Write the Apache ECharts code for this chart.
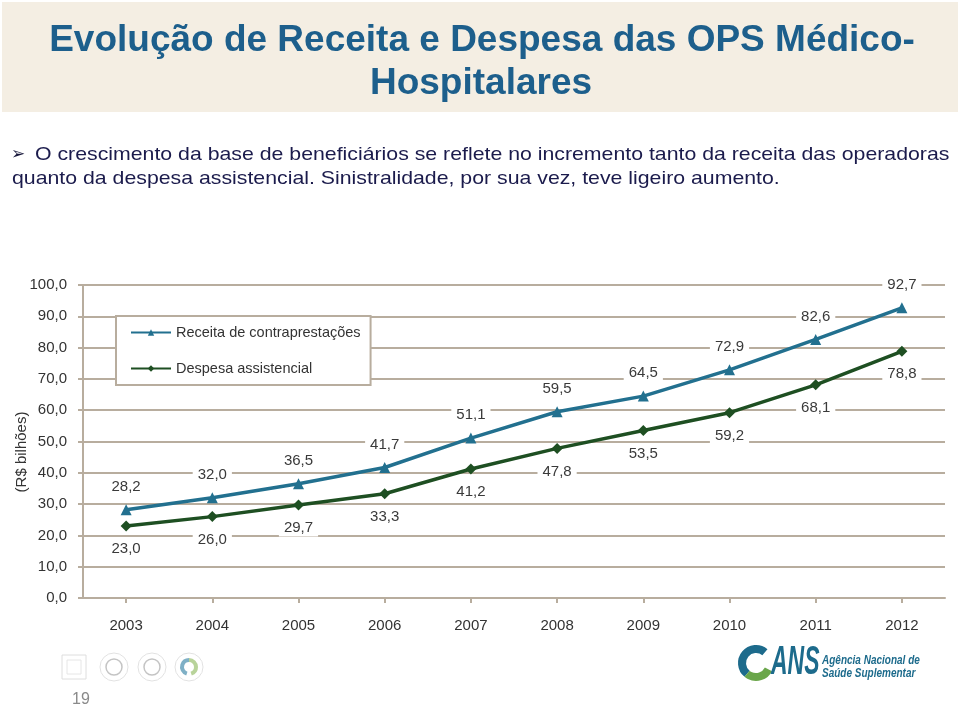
<!DOCTYPE html>
<html>
<head>
<meta charset="utf-8">
<script src="https://cdn.jsdelivr.net/npm/echarts@6/dist/echarts.min.js"></script>
<style>
html,body{margin:0;padding:0;background:#fff;}
#c{width:960px;height:707px;}
</style>
</head>
<body>
<div id="c"></div>
<script>
const years = ['2003','2004','2005','2006','2007','2008','2009','2010','2011','2012'];
const receita = [28.2, 32.0, 36.5, 41.7, 51.1, 59.5, 64.5, 72.9, 82.6, 92.7];
const despesa = [23.0, 26.0, 29.7, 33.3, 41.2, 47.8, 53.5, 59.2, 68.1, 78.8];
const seriesNames = ['Receita de contraprestações', 'Despesa assistencial'];
const titleLines = ['Evolução de Receita e Despesa das OPS Médico-', 'Hospitalares'];
const bulletLines = ['O crescimento da base de beneficiários se reflete no incremento tanto da receita das operadoras',
  'quanto da despesa assistencial. Sinistralidade, por sua vez, teve ligeiro aumento.'];
const yAxisName = '(R$ bilhões)';
const pageNumber = '19';
const logoTexts = ['ANS', 'Agência Nacional de', 'Saúde Suplementar'];

const fmt = v => v.toFixed(1).replace('.', ',');
const axisCol = '#b8ad9e';
const FF = 'Arial, "Liberation Sans", sans-serif';
const chart = echarts.init(document.getElementById('c'));

const labelBase = {
  show: true,
  fontFamily: FF,
  fontSize: 15,
  color: '#3a3a3a',
  backgroundColor: '#fff',
  padding: [1, 5],
  distance: 9,
  formatter: p => fmt(p.value)
};

function txt(x, y, text, font, fill, extra) {
  return Object.assign({
    type: 'text', x: x, y: y,
    style: {text: text, font: font, fill: fill, textAlign: 'left', textVerticalAlign: 'middle'}
  }, extra || {});
}

chart.setOption({
  animation: false,
  textStyle: {fontFamily: FF},
  grid: {left: 83, right: 15, top: 285, bottom: 109, containLabel: false},
  legend: {
    orient: 'vertical',
    left: 116, top: 316,
    backgroundColor: '#fff',
    borderColor: axisCol,
    borderWidth: 2,
    padding: [9, 10, 9, 14],
    itemGap: 21,
    itemWidth: 40,
    itemHeight: 8,
    textStyle: {fontSize: 14.5, color: '#333'},
    data: seriesNames
  },
  xAxis: {
    type: 'category',
    data: years,
    boundaryGap: true,
    axisLine: {lineStyle: {color: axisCol, width: 2}},
    axisTick: {show: true, alignWithLabel: true, length: 5, lineStyle: {color: axisCol, width: 2}},
    axisLabel: {fontSize: 15, color: '#333', margin: 20}
  },
  yAxis: {
    type: 'value',
    min: 0, max: 100, interval: 10,
    axisLine: {show: true, lineStyle: {color: axisCol, width: 2}},
    axisTick: {show: true, length: 5, lineStyle: {color: axisCol, width: 2}},
    axisLabel: {fontSize: 15, color: '#333', margin: 16, formatter: v => fmt(v)},
    splitLine: {show: true, lineStyle: {color: axisCol, width: 2}}
  },
  series: [
    {
      name: seriesNames[0],
      type: 'line',
      data: receita,
      symbol: 'triangle',
      symbolSize: 11,
      lineStyle: {color: '#22708f', width: 3.5},
      itemStyle: {color: '#22708f'},
      label: Object.assign({}, labelBase, {position: 'top'}),
      z: 3
    },
    {
      name: seriesNames[1],
      type: 'line',
      data: despesa,
      symbol: 'diamond',
      symbolSize: 11,
      lineStyle: {color: '#1e4f22', width: 3.5},
      itemStyle: {color: '#1e4f22'},
      label: Object.assign({}, labelBase, {position: 'bottom'}),
      z: 3
    }
  ],
  graphic: [
    {type: 'rect', shape: {x: 2, y: 2, width: 956, height: 110}, style: {fill: '#f4eee3'}, z: -10},
    {type: 'text', x: 482, y: 41, style: {text: titleLines[0], font: 'bold 37px ' + FF, fill: '#1d5f8c', textAlign: 'center', textVerticalAlign: 'middle'}},
    {type: 'text', x: 481, y: 84, style: {text: titleLines[1], font: 'bold 37px ' + FF, fill: '#1d5f8c', textAlign: 'center', textVerticalAlign: 'middle'}},
    txt(11, 155, '➢', '17px "DejaVu Sans", sans-serif', '#16163a'),
    txt(35, 155, bulletLines[0], '19px ' + FF, '#1b1b4c', {scaleX: 1.12}),
    txt(12, 179, bulletLines[1], '19px ' + FF, '#1b1b4c', {scaleX: 1.12}),
    txt(22, 452, yAxisName, '15px ' + FF, '#333', {rotation: Math.PI / 2, style: {text: yAxisName, font: '15px ' + FF, fill: '#333', textAlign: 'center', textVerticalAlign: 'middle'}}),
    txt(72, 700, pageNumber, '16px ' + FF, '#8a8a8a'),
    // faint footer icons
    {type: 'rect', shape: {x: 62, y: 655, width: 24, height: 24}, style: {fill: 'none', stroke: '#dedede', lineWidth: 1}},
    {type: 'rect', shape: {x: 67, y: 660, width: 14, height: 14}, style: {fill: 'none', stroke: '#e6e6e6', lineWidth: 1}},
    {type: 'circle', shape: {cx: 114, cy: 667, r: 14}, style: {fill: 'none', stroke: '#e2e2e2', lineWidth: 1}},
    {type: 'circle', shape: {cx: 114, cy: 667, r: 8}, style: {fill: 'none', stroke: '#c4c4c4', lineWidth: 1.5}},
    {type: 'circle', shape: {cx: 152, cy: 667, r: 14}, style: {fill: 'none', stroke: '#e2e2e2', lineWidth: 1}},
    {type: 'circle', shape: {cx: 152, cy: 667, r: 8}, style: {fill: 'none', stroke: '#c4c4c4', lineWidth: 1.5}},
    {type: 'circle', shape: {cx: 189, cy: 667, r: 14}, style: {fill: 'none', stroke: '#e2e2e2', lineWidth: 1}},
    {type: 'arc', shape: {cx: 189, cy: 667, r: 7, startAngle: Math.PI * 0.6, endAngle: Math.PI * 1.5}, style: {stroke: '#7fb0c6', lineWidth: 4, fill: 'none'}},
    {type: 'arc', shape: {cx: 189, cy: 667, r: 7, startAngle: Math.PI * 1.5, endAngle: Math.PI * 2.4}, style: {stroke: '#b8d39a', lineWidth: 4, fill: 'none'}},
    // ANS logo
    {type: 'arc', shape: {cx: 756, cy: 663, r: 14, startAngle: Math.PI * 0.72, endAngle: Math.PI * 1.72}, style: {stroke: '#1d6b8c', lineWidth: 8, fill: 'none'}},
    {type: 'arc', shape: {cx: 756, cy: 663, r: 14, startAngle: Math.PI * 0.15, endAngle: Math.PI * 0.72}, style: {stroke: '#6aa64a', lineWidth: 8, fill: 'none'}},
    txt(771, 663, logoTexts[0], 'italic bold 41px ' + FF, '#1d6b8c', {scaleX: 0.56}),
    txt(822, 661, logoTexts[1], 'italic bold 12.5px ' + FF, '#1d6b8c', {scaleX: 0.8}),
    txt(822, 674, logoTexts[2], 'italic bold 12.5px ' + FF, '#1d6b8c', {scaleX: 0.8})
  ]
});
</script>
</body>
</html>
